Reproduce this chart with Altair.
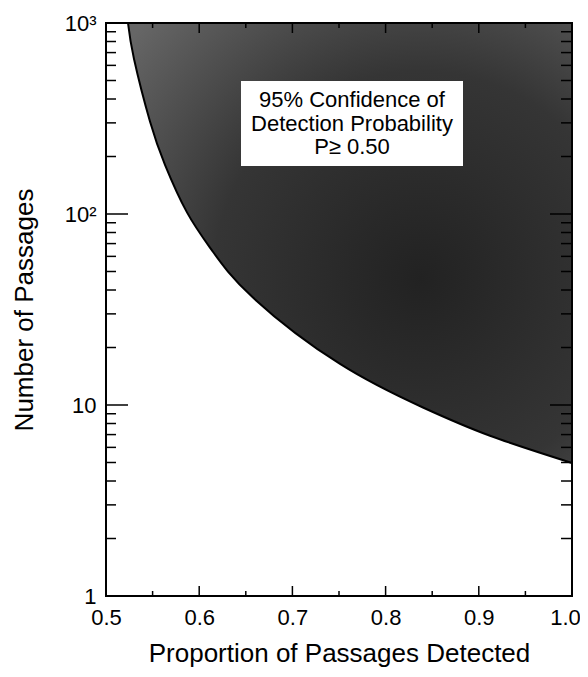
import altair as alt
import pandas as pd

# Curve (proportion detected vs. number of passages)
prop = [0.5236, 0.5300, 0.5472, 0.5633, 0.5869, 0.6137, 0.6577, 0.7511, 0.8401, 0.9120, 1.0]
passages = [1000, 650, 305, 181, 102, 64.5, 36.5, 16.4, 9.7, 6.9, 4.97]

x_major = [0.5, 0.6, 0.7, 0.8, 0.9, 1.0]
x_minor = [0.55, 0.65, 0.75, 0.85, 0.95]
y_major = [1, 10, 100, 1000]
y_minor = [2, 3, 4, 5, 6, 7, 8, 9, 20, 30, 40, 50, 60, 70, 80, 90,
           200, 300, 400, 500, 600, 700, 800, 900]
box_lines = ["95% Confidence of", "Detection Probability", "P\u2265 0.50"]

W, H = 466, 573
FONT = "Liberation Sans"

xs = alt.Scale(domain=[0.5, 1.0], nice=False, zero=False)
ys = alt.Scale(type="log", domain=[1, 1000], nice=False)

X_AXIS = alt.Axis(values=x_major, format=".1f", ticks=False, domain=False, grid=False,
                  labelFlush=False, labelFontSize=22, labelPadding=11, labelFont=FONT,
                  labelOffset={"condition": {"test": "datum.value == 1", "value": -7}, "value": 0},
                  titleFont=FONT, titleFontSize=26, titleFontWeight="normal",
                  titlePadding=12, labelColor="black", titleColor="black")
Y_AXIS = alt.Axis(values=y_major, ticks=False, domain=False, grid=False, labelFlush=False,
                  labelExpr="datum.value == 1000 ? '10\u00b3' : datum.value == 100 ? '10\u00b2' : datum.value == 10 ? '10\u2004' : '1\u2004'",
                  labelFontSize=22, labelPadding=10, labelFont=FONT,
                  titleFont=FONT, titleFontSize=26, titleFontWeight="normal",
                  titlePadding=27, labelColor="black", titleColor="black")
X_TITLE = "Proportion of Passages Detected"
Y_TITLE = "Number of Passages"


def xenc():
    return alt.X("p:Q", scale=xs, axis=X_AXIS, title=X_TITLE)


def yenc():
    return alt.Y("n:Q", scale=ys, axis=Y_AXIS, title=Y_TITLE)


curve = pd.DataFrame({"p": prop, "n": passages, "top": [1000] * len(prop)})

grad = alt.Gradient(
    gradient="radial",
    stops=[alt.GradientStop(offset=0, color="#222222"),
           alt.GradientStop(offset=0.55, color="#353535"),
           alt.GradientStop(offset=1, color="#666666")],
    x1=0.66, y1=0.58, r1=0, x2=0.66, y2=0.58, r2=0.85,
)

area = alt.Chart(curve).mark_area(color=grad, interpolate="natural", clip=True).encode(
    x=xenc(), y=yenc(), y2="top:Q")

line = alt.Chart(curve).mark_line(color="black", strokeWidth=2, interpolate="natural",
                                  clip=True).encode(x=xenc(), y=yenc())


def yticks(vals, length, side):
    df = pd.DataFrame({"n": vals})
    if side == "left":
        xe, x2e = alt.value(0), alt.value(length)
    else:
        xe, x2e = alt.value(W), alt.value(W - length)
    return alt.Chart(df).mark_rule(color="black", strokeWidth=1.5).encode(
        y=yenc(), x=xe, x2=x2e)


def xticks(vals, length, side):
    df = pd.DataFrame({"p": vals})
    if side == "bottom":
        ye, y2e = alt.value(H), alt.value(H - length)
    else:
        ye, y2e = alt.value(0), alt.value(length)
    return alt.Chart(df).mark_rule(color="black", strokeWidth=1.5).encode(
        x=xenc(), y=ye, y2=y2e)


ticks = [
    yticks(y_major, 22, "left"), yticks(y_minor, 10, "left"),
    yticks(y_major, 22, "right"), yticks(y_minor, 11, "right"),
    xticks(x_major, 10, "bottom"), xticks(x_minor, 5, "bottom"),
    xticks(x_major, 10, "top"), xticks(x_minor, 5, "top"),
]

one = pd.DataFrame({"a": [0]})
box = alt.Chart(one).mark_rect(color="white").encode(
    x=alt.value(135), x2=alt.value(357), y=alt.value(58), y2=alt.value(143))

texts = [
    alt.Chart(one).mark_text(text=t, font=FONT, fontSize=22, color="black",
                             align="center", baseline="middle").encode(
        x=alt.value(246), y=alt.value(77 + 23.5 * i))
    for i, t in enumerate(box_lines)
]

frame = alt.Chart(one).mark_rect(fillOpacity=0, stroke="black", strokeWidth=2).encode(
    x=alt.value(0), x2=alt.value(W), y=alt.value(0), y2=alt.value(H))

chart = alt.layer(area, line, *ticks, box, *texts, frame).properties(
    width=W, height=H,
    padding={"left": 98, "top": 15, "right": 8, "bottom": 73},
    autosize=alt.AutoSizeParams(type="none"),
).configure_view(stroke=None)

chart.save("out.html", embed_options={"renderer": "svg", "actions": False})
